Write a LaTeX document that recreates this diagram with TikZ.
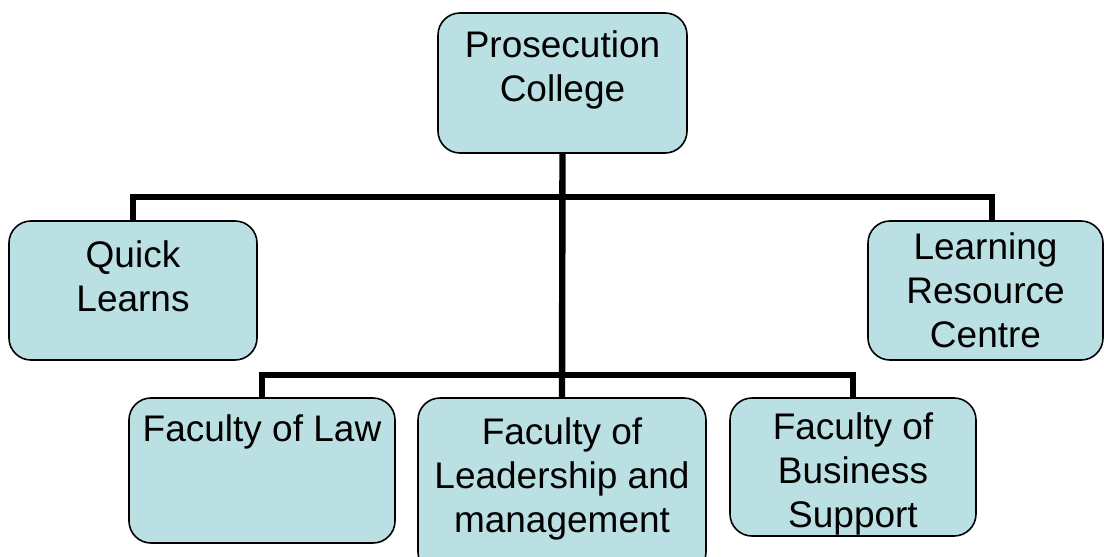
\documentclass[tikz,border=0pt]{standalone}
\usepackage{fontspec}
\setmainfont{Liberation Sans}
\usepackage{xcolor}
\usepackage{tikz}
\usetikzlibrary{positioning, calc}
\definecolor{unitfill}{RGB}{187,224,227}

\begin{document}
\begin{tikzpicture}[x=0.5pt, y=-0.5pt,
    unit/.style={rectangle, rounded corners=11pt, draw=black, line width=0.8pt, fill=unitfill, inner sep=0pt},
    unittext/.style={anchor=north, align=center, inner sep=0pt, font=\fontsize{18.5}{22}\selectfont},
    link/.style={line width=3.2pt}
]
\useasboundingbox (0,0) rectangle (1104,557);
% boxes
\node[unit, minimum width=124.5pt, minimum height=70pt] (pc) at (562.5,83) {};
\node[unit, minimum width=124pt, minimum height=69.5pt] (ql) at (133,290.5) {};
\node[unit, minimum width=117.5pt, minimum height=69.5pt] (lrc) at (985.5,290.5) {};
\node[unit, minimum width=133pt, minimum height=72.5pt] (fl) at (262,470.5) {};
\node[unit, minimum width=144pt, minimum height=88pt] (flm) at (562,486) {};
\node[unit, minimum width=123pt, minimum height=69pt] (fbs) at (853,467) {};
% texts
\node[unittext] (pct) at ([yshift=-9pt]pc.north) {Prosecution\\College};
\node[unittext] (qlt) at ([yshift=-10pt]ql.north) {Quick\\Learns};
\node[unittext] (lrct) at ([yshift=-6pt]lrc.north) {Learning\\Resource\\Centre};
\node[unittext] (flt) at ([yshift=-8.5pt]fl.north) {Faculty of Law};
\node[unittext] (flmt) at ([yshift=-10pt]flm.north) {Faculty of\\Leadership and\\management};
\node[unittext] (fbst) at ([yshift=-7.5pt]fbs.north) {Faculty of\\Business\\Support};
% connectors
\coordinate (bus1) at (562.5,197);
\coordinate (bus2) at (562.5,375);
\draw[link] (pc.south) -- (flm.north);
\draw[link] (ql.north) |- (bus1) -| ([xshift=3.25pt]lrc.north);
\draw[link] (fl.north) |- (bus2) -| (fbs.north);
\end{tikzpicture}
\end{document}
